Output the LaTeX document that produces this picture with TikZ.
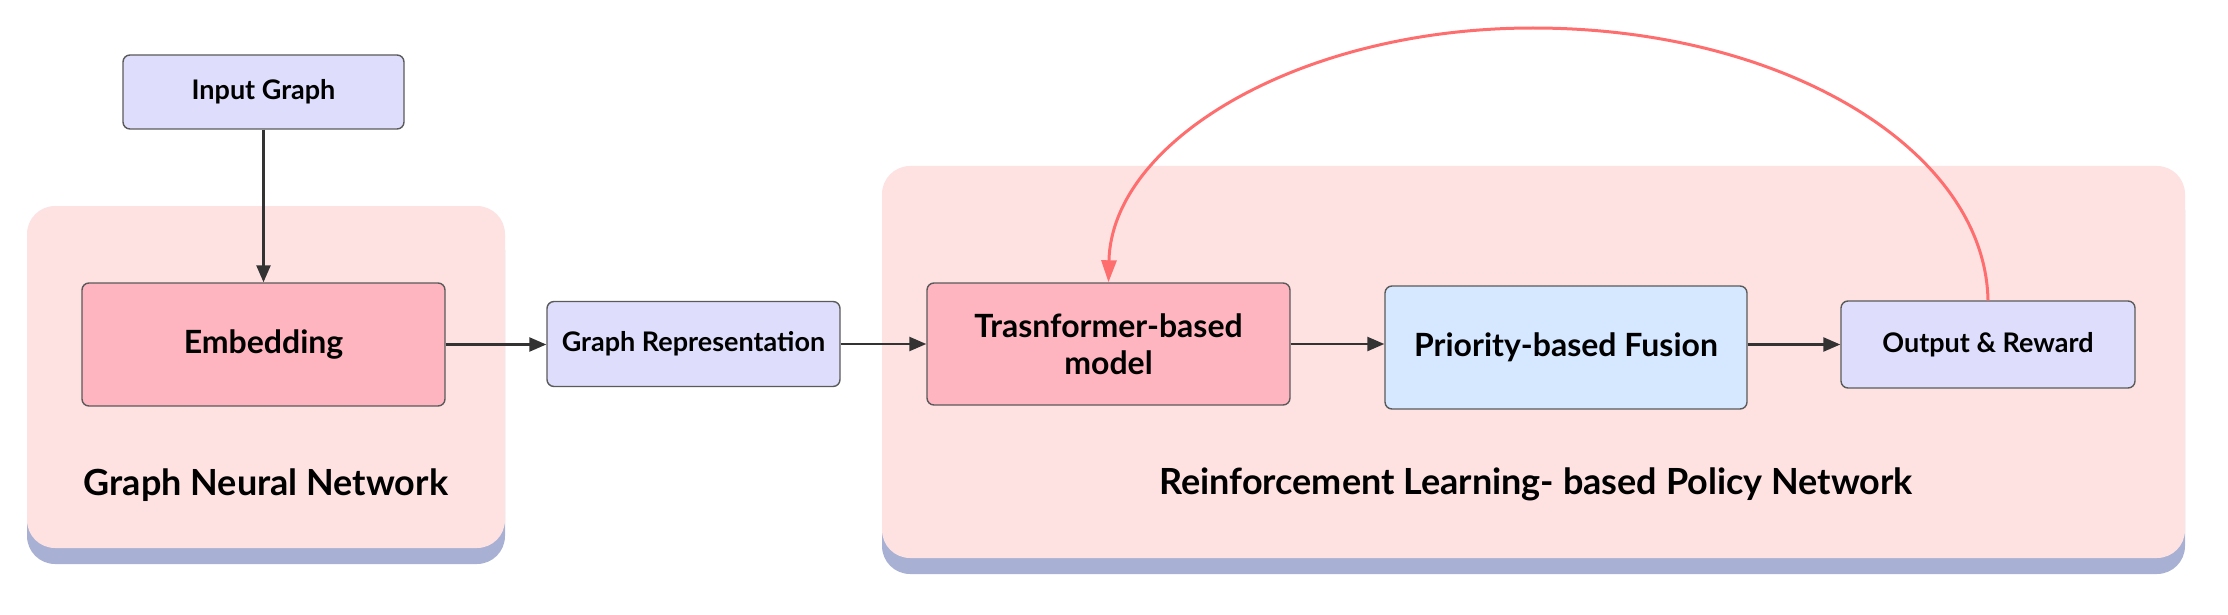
\documentclass[tikz,border=0pt]{standalone}
\usepackage{fontspec}
\setmainfont{Lato}
\usetikzlibrary{arrows.meta}
\definecolor{contfill}{RGB}{254,226,226}
\definecolor{contshadow}{RGB}{168,176,211}
\definecolor{lavfill}{RGB}{222,222,252}
\definecolor{pinkfill}{RGB}{255,181,192}
\definecolor{bluefill}{RGB}{214,232,255}
\definecolor{boxline}{RGB}{90,90,90}
\definecolor{arrline}{RGB}{51,51,51}
\definecolor{redline}{RGB}{255,110,110}
\tikzset{
  boxbase/.style={draw=boxline, line width=1.4pt, rounded corners=7pt, align=center, inner sep=0pt, font=\bfseries},
  smallbox/.style={boxbase, fill=lavfill, font=\bfseries\fontsize{27}{32}\selectfont},
  pinkbox/.style={boxbase, fill=pinkfill, font=\bfseries\fontsize{32}{37}\selectfont},
  bluebox/.style={boxbase, fill=bluefill, font=\bfseries\fontsize{32}{37}\selectfont},
  container/.style={fill=contfill, rounded corners=28pt},
  contshadow/.style={fill=contshadow, rounded corners=28pt},
  contlabel/.style={font=\bfseries\fontsize{36}{42}\selectfont, inner sep=0pt},
  flow/.style={draw=arrline, line width=2.4pt, -{Triangle[length=17pt,width=14pt]}},
  feedback/.style={draw=redline, line width=3pt, -{Triangle[length=22pt,width=15pt]}}
}
\begin{document}
\begin{tikzpicture}[x=1pt,y=-1pt]
\useasboundingbox (0,0) rectangle (2228,615);
% containers
\path[contshadow] (27,222) rectangle (505,564);
\path[container] (27,206) rectangle (505,548);
\path[contshadow] (882,182) rectangle (2185,574);
\path[container] (882,166) rectangle (2185,558);
\node[contlabel] (gnnlabel) at (266,485) {Graph Neural Network};
\node[contlabel] (rllabel) at (1536,484) {Reinforcement Learning- based Policy Network};
% nodes
\node[smallbox, minimum width=281pt, minimum height=74pt] (inp) at (263.5,92) {Input Graph};
\node[pinkbox, minimum width=363pt, minimum height=123pt] (emb) at (263.5,344.5) {Embedding};
\node[smallbox, minimum width=293pt, minimum height=85pt] (grep) at (693.5,344) {Graph Representation};
\node[pinkbox, minimum width=363pt, minimum height=122pt] (trans) at (1108.5,344) {Trasnformer-based\\model};
\node[bluebox, minimum width=362pt, minimum height=123pt] (prio) at (1566,347.5) {Priority-based Fusion};
\node[smallbox, minimum width=294pt, minimum height=87pt] (outr) at (1988,344.5) {Output \& Reward};
\coordinate (fbtop) at (1533,28);
% connectors
\draw[flow] (inp.south) -- (emb.north);
\draw[flow] (emb.east) -- (emb.east -| grep.west);
\draw[flow] (grep.east) -- (grep.east -| trans.west);
\draw[flow] (trans.east) -- (trans.east -| prio.west);
\draw[flow] (prio.east |- outr.west) -- (outr.west);
\draw[feedback] (outr.north) .. controls +(-3,-150) and +(252,0) .. (fbtop)
  .. controls +(-234,0) and +(3,-141) .. (trans.north);
\end{tikzpicture}
\end{document}
